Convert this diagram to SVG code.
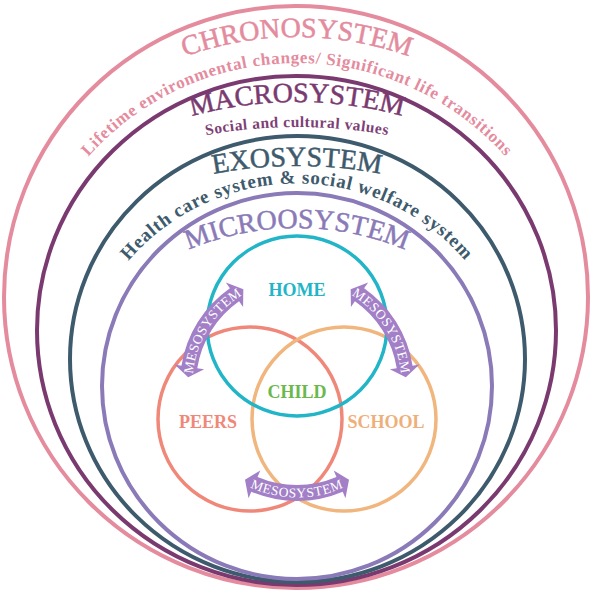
<svg xmlns="http://www.w3.org/2000/svg" width="593" height="594" viewBox="0 0 593 594">
<style>
  text { font-family: "Liberation Serif", "Times New Roman", serif; }
  .ring { fill: none; stroke-width: 4; }
  .inner { fill: none; stroke-width: 3.5; }
  .title { font-size: 28px; text-anchor: middle; stroke-width: 0.5px; }
  .sub { font-weight: bold; text-anchor: middle; }
  .label { font-size: 18px; font-weight: bold; text-anchor: middle; }
  .meso { fill: #a27fc6; }
  .mesotext { fill: #ffffff; font-size: 13.5px; letter-spacing: 0.6px; text-anchor: middle; }
</style>
<defs>
  <path id="pChrono" d="M -33 367 A 330 330 0 0 1 627 367"/>
  <path id="pLife" d="M 18 342 A 279 279 0 0 1 576 342"/>
  <path id="pMacro" d="M -103 502 A 400 400 0 0 1 697 502"/>
  <path id="pSocial" d="M -213 637 A 510 510 0 0 1 807 637"/>
  <path id="pExo" d="M -153 616 A 450 450 0 0 1 747 616"/>
  <path id="pHealth" d="M 75 405.5 A 222 222 0 0 1 519 405.5"/>
  <path id="pMicro" d="M 17 508 A 280 280 0 0 1 577 508"/>
  <path id="mesoShape" d="M 342.71 491.70 A 117 117 0 0 1 251.29 491.70 L 248.55 498.14 L 244.99 479.79 L 260.27 470.53 L 257.54 476.97 A 101 101 0 0 0 336.46 476.97 L 333.73 470.53 L 349.01 479.79 L 345.45 498.14 Z"/>
  <path id="mesoOut" d="M 346.06 476.26 A 104.5 104.5 0 0 1 247.94 476.26"/>
  <path id="mesoIn" d="M 243.71 484.21 A 113.5 113.5 0 0 0 350.29 484.21"/>
</defs>

<g id="chronosystem">
  <ellipse class="ring" cx="296" cy="297" rx="292" ry="291" stroke="#e48b9e"/>
  <text class="title" fill="#e48b9e" stroke="#e48b9e"><textPath href="#pChrono" startOffset="50%">CHRONOSYSTEM</textPath></text>
  <text class="sub" fill="#e48b9e" font-size="17" letter-spacing="0.7"><textPath href="#pLife" startOffset="50%">Lifetime environmental changes/ Significant life transitions</textPath></text>
</g>

<g id="macrosystem">
  <ellipse class="ring" cx="296.5" cy="330.5" rx="259.5" ry="254.5" stroke="#7a3a70"/>
  <text class="title" fill="#7a3a70" stroke="#7a3a70" font-size="27"><textPath href="#pMacro" startOffset="50%">MACROSYSTEM</textPath></text>
  <text class="sub" fill="#7e3f76" font-size="15.5" letter-spacing="0.5"><textPath href="#pSocial" startOffset="50%">Social and cultural values</textPath></text>
</g>

<g id="exosystem">
  <ellipse class="ring" cx="297.5" cy="359" rx="227.5" ry="223" stroke="#3e5a6d"/>
  <text class="title" fill="#3e5a6d" stroke="#3e5a6d" font-size="27"><textPath href="#pExo" startOffset="50%">EXOSYSTEM</textPath></text>
  <text class="sub" fill="#3e5a6d" font-size="19" letter-spacing="0.8"><textPath href="#pHealth" startOffset="50%">Health care system &amp; social welfare system</textPath></text>
</g>

<g id="microsystem">
  <ellipse class="ring" cx="297" cy="386" rx="195" ry="193" stroke="#8a7ab8"/>
  <text class="title" fill="#8a7ab8" stroke="#8a7ab8" font-size="26.5"><textPath href="#pMicro" startOffset="50%">MICROOSYSTEM</textPath></text>
</g>

<g id="peers">
  <circle class="inner" cx="250" cy="419" r="92" stroke="#f0887a"/>
  <text class="label" x="208" y="428" fill="#f0887a">PEERS</text>
</g>

<g id="school">
  <circle class="inner" cx="344" cy="419" r="92" stroke="#f0b67e"/>
  <text class="label" x="386" y="428" fill="#eeb07a">SCHOOL</text>
</g>

<g id="home">
  <circle class="inner" cx="297" cy="326" r="90" stroke="#21b5c7"/>
  <text class="label" x="297" y="296" fill="#21b5c7">HOME</text>
</g>

<g id="child">
  <text class="label" x="297" y="398" fill="#6bb84d">CHILD</text>
</g>

<g id="connectors">
  <g id="meso-peers-school">
    <use href="#mesoShape" class="meso"/>
    <text class="mesotext"><textPath href="#mesoIn" startOffset="50%">MESOSYSTEM</textPath></text>
  </g>
  <g id="meso-home-peers" transform="rotate(122 297 384)">
    <use href="#mesoShape" class="meso"/>
    <text class="mesotext"><textPath href="#mesoOut" startOffset="50%">MESOSYSTEM</textPath></text>
  </g>
  <g id="meso-home-school" transform="rotate(238 297 384)">
    <use href="#mesoShape" class="meso"/>
    <text class="mesotext"><textPath href="#mesoOut" startOffset="50%">MESOSYSTEM</textPath></text>
  </g>
</g>
</svg>
